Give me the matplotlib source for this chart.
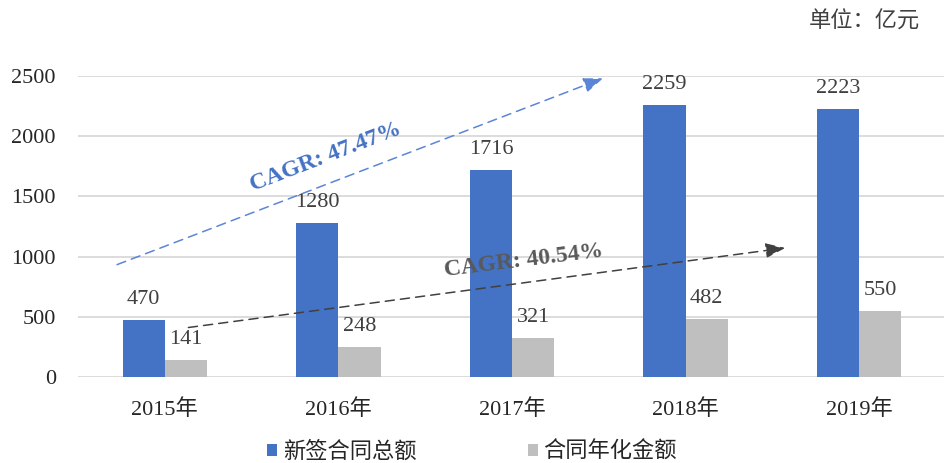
import matplotlib
matplotlib.use("Agg")
import matplotlib.pyplot as plt
import numpy as np

plt.rcParams["font.family"] = ["Liberation Serif", "Noto Sans CJK SC"]

years = ["2015年", "2016年", "2017年", "2018年", "2019年"]
total_signed = [470, 1280, 1716, 2259, 2223]
annualized = [141, 248, 321, 482, 550]
series_names = ["新签合同总额", "合同年化金额"]
cagr_labels = ["CAGR: 47.47%", "CAGR: 40.54%"]

BLUE = "#4472C4"
GREY = "#BFBFBF"
TXT = "#404040"

fig = plt.figure(figsize=(9.44, 4.63), dpi=100)
ax = fig.add_axes([78 / 944, 86 / 463, 868 / 944, 301 / 463])

x = np.arange(len(years))
w = 0.243
b1 = ax.bar(x - w / 2, total_signed, w, color=BLUE, label=series_names[0], zorder=3)
b2 = ax.bar(x + w / 2, annualized, w, color=GREY, label=series_names[1], zorder=3)

# value labels above bars
for bars, vals in [(b1, total_signed), (b2, annualized)]:
    for rect, v in zip(bars, vals):
        ax.annotate(str(v), (rect.get_x() + rect.get_width() / 2, v),
                    xytext=(0, 8), textcoords="offset points",
                    ha="center", va="bottom", fontsize=16, color=TXT, zorder=5)

ax.set_xlim(-0.5, 4.5)
ax.set_ylim(0, 2500)
ax.set_yticks(range(0, 2501, 500))
ax.set_xticks(x)
ax.set_xticklabels(years, fontsize=16)
ax.tick_params(axis="y", labelsize=16, length=0, pad=16, labelcolor="#262626")
ax.tick_params(axis="x", length=0, pad=16, labelcolor="#262626")
ax.grid(axis="y", color="#D9D9D9", linewidth=1.3, zorder=0)
for s in ax.spines.values():
    s.set_visible(False)

# CAGR trend arrows
ax.annotate("", xy=(2.54, 2490), xytext=(-0.29, 925),
            arrowprops=dict(arrowstyle="-|>,head_length=1.2,head_width=0.45",
                            linestyle=(0, (6, 4)), color="#5B85D6", lw=1.1),
            zorder=6)
ax.annotate("", xy=(3.59, 1075), xytext=(0.12, 408),
            arrowprops=dict(arrowstyle="-|>,head_length=1.2,head_width=0.45",
                            linestyle=(0, (6, 4)), color="#404040", lw=1.1),
            zorder=6)
ax.text(0.93, 1825, cagr_labels[0], rotation=21, ha="center", va="center",
        fontsize=17, fontweight="bold", color=BLUE, zorder=7)
ax.text(2.07, 966, cagr_labels[1], rotation=7, ha="center", va="center",
        fontsize=17, fontweight="bold", color="#595959", zorder=7)

fig.text(920 / 944, 1 - 22 / 463, "单位：亿元", ha="right", va="center",
         fontsize=16, color=TXT)

fig.legend(handles=[b1, b2], labels=series_names, loc="center",
           bbox_to_anchor=(0.5, 1 - 452 / 463), ncol=2, frameon=False,
           fontsize=16, handlelength=0.45, handleheight=0.45, handletextpad=0.25,
           columnspacing=5.0, labelcolor="#262626")

fig.savefig("out.png", dpi=100)
